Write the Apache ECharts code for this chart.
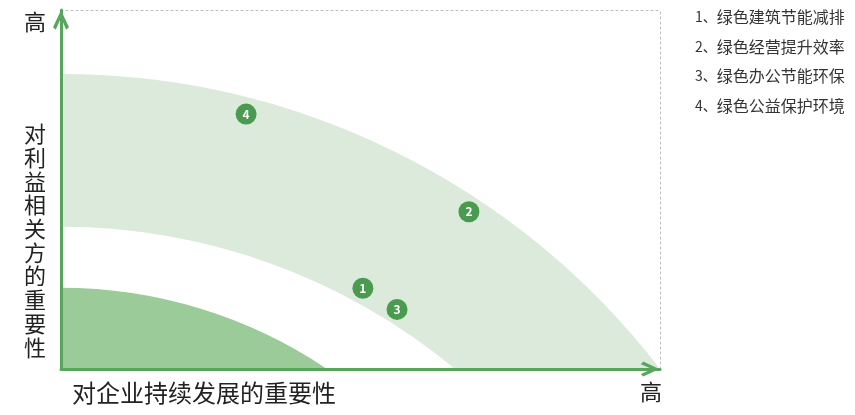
<!DOCTYPE html>
<html>
<head>
<meta charset="utf-8">
<script src="https://cdn.jsdelivr.net/npm/echarts@6/dist/echarts.min.js"></script>
<style>
  html, body { margin: 0; padding: 0; background: #fff; }
  #chart { width: 855px; height: 415px; }
</style>
</head>
<body>
<div id="chart"></div>
<script>
  // issues (numbered circles)
  const issueIds = [1, 2, 3, 4]
  const issueNames = ['绿色建筑节能减排', '绿色经营提升效率', '绿色办公节能环保', '绿色公益保护环境']
  const xValues = [50.4, 68.1, 56.1, 30.9]   // 对企业持续发展的重要性
  const yValues = [22.5, 43.8, 16.6, 71.0]   // 对利益相关方的重要性

  // zone boundaries: where each curve meets the y axis / the x axis
  const boundaryTopY = [22.6, 39.6, 82.2]
  const boundaryEndX = [44.4, 65.8, 100]

  const green = '#58a65c'
  const dotColor = '#4a9a50'
  const zoneColors = ['#9ccb9a', '#dbeadb']
  const font = '"Noto Sans CJK SC", sans-serif'

  // zones: [innerTop, innerEnd, outerTop, outerEnd, colorIndex]
  const zones = [
    [0, 0, boundaryTopY[0], boundaryEndX[0], 0],
    [boundaryTopY[1], boundaryEndX[1], boundaryTopY[2], boundaryEndX[2], 1]
  ]

  const chevron = 'path://M8,0 L16,17 L13.2,19.6 L8,7.5 L2.8,19.6 L0,17 Z'

  const myChart = echarts.init(document.getElementById('chart'))

  function arcOf(api, top, end) {
    const p1 = api.coord([0, top])
    const p2 = api.coord([end, 0])
    const dx = p2[0] - p1[0]
    const dy = p2[1] - p1[1]
    return { p1: p1, p2: p2, r: (dx * dx + dy * dy) / (2 * dy) }
  }

  function renderZone(params, api) {
    const outer = arcOf(api, api.value(2), api.value(3))
    let d = 'M' + outer.p1[0] + ',' + outer.p1[1] +
      ' A' + outer.r + ',' + outer.r + ' 0 0 1 ' + outer.p2[0] + ',' + outer.p2[1]
    if (api.value(0) > 0) {
      const inner = arcOf(api, api.value(0), api.value(1))
      d += ' L' + inner.p2[0] + ',' + inner.p2[1] +
        ' A' + inner.r + ',' + inner.r + ' 0 0 0 ' + inner.p1[0] + ',' + inner.p1[1] + ' Z'
    } else {
      const o = api.coord([0, 0])
      d += ' L' + o[0] + ',' + o[1] + ' Z'
    }
    return {
      type: 'path',
      shape: { pathData: d },
      style: { fill: zoneColors[api.value(4)] }
    }
  }

  const legendText = issueIds.map((id, i) => '{n|' + id + '、}{t|' + issueNames[i] + '}').join('\n')
  const border = { color: '#bdbdbd', type: [2, 3], width: 1 }

  const option = {
    animation: false,
    grid: { left: 61, right: 195, top: 10, bottom: 46 },
    xAxis: [{
      type: 'value', min: 0, max: 100, z: 10,
      axisLine: { show: true, onZero: false, symbol: ['none', chevron], symbolSize: [15, 22], symbolOffset: [0, -10],
        lineStyle: { color: green, width: 3 } },
      axisTick: { show: false }, axisLabel: { show: false }, splitLine: { show: false }
    }, {
      type: 'value', min: 0, max: 100, position: 'top',
      axisLine: { show: true, onZero: false, lineStyle: border },
      axisTick: { show: false }, axisLabel: { show: false }, splitLine: { show: false }
    }],
    yAxis: [{
      type: 'value', min: 0, max: 100, z: 10,
      axisLine: { show: true, onZero: false, symbol: ['none', chevron], symbolSize: [16, 22], symbolOffset: [0, -10],
        lineStyle: { color: green, width: 3 } },
      axisTick: { show: false }, axisLabel: { show: false }, splitLine: { show: false }
    }, {
      type: 'value', min: 0, max: 100, position: 'right',
      axisLine: { show: true, onZero: false, lineStyle: border },
      axisTick: { show: false }, axisLabel: { show: false }, splitLine: { show: false }
    }],
    series: [{
      type: 'custom',
      renderItem: renderZone,
      silent: true,
      z: 1,
      data: zones
    }, {
      type: 'scatter',
      symbolSize: 21,
      z: 5,
      itemStyle: { color: dotColor, opacity: 1 },
      label: {
        show: true, position: 'inside', color: '#fff', fontSize: 12, fontWeight: 'bold',
        fontFamily: font,
        formatter: p => p.value[2]
      },
      data: issueIds.map((id, i) => [xValues[i], yValues[i], id])
    }],
    graphic: [{
      type: 'text', left: 24, top: 11,
      style: { text: '高', fontSize: 22, fill: '#222', fontFamily: font }
    }, {
      type: 'text', left: 640, top: 381,
      style: { text: '高', fontSize: 22, fill: '#222', fontFamily: font }
    }, {
      type: 'text', left: 24, top: 122,
      style: { text: '对利益相关方的重要性'.split('').join('\n'), fontSize: 22, lineHeight: 23.7,
        fill: '#222', fontFamily: font }
    }, {
      type: 'text', left: 72, top: 381,
      style: { text: '对企业持续发展的重要性', fontSize: 24, fill: '#222', fontFamily: font }
    }, {
      type: 'text', left: 695, top: 9,
      style: {
        text: legendText, fill: '#333', fontFamily: font,
        rich: {
          n: { fontSize: 14, lineHeight: 29.5, fill: '#333', fontFamily: font },
          t: { fontSize: 16, lineHeight: 29.5, fill: '#333', fontFamily: font }
        }
      }
    }]
  }

  myChart.setOption(option)
</script>
</body>
</html>
